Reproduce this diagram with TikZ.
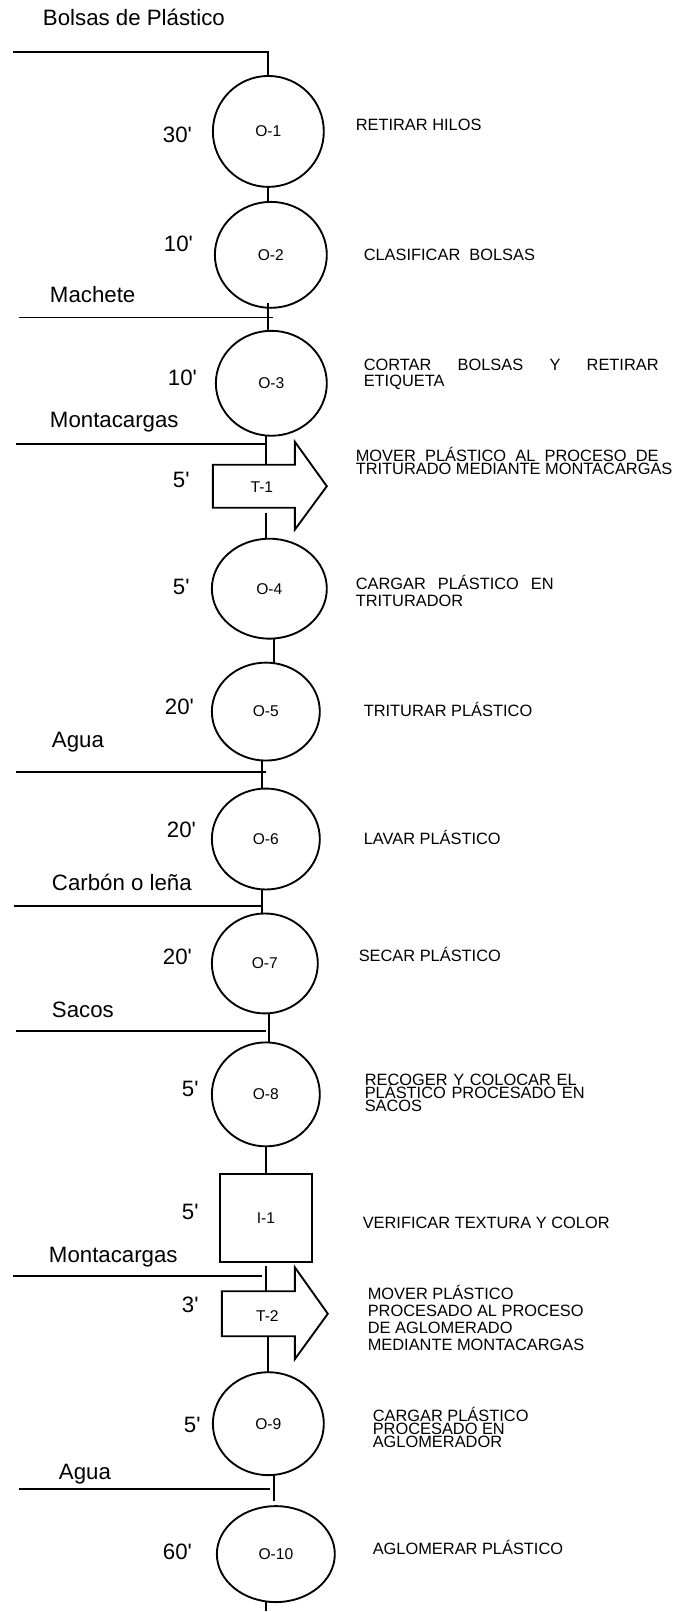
\documentclass[tikz,border=0pt]{standalone}
\usepackage{fontspec}
\setmainfont{Liberation Sans}
\usetikzlibrary{shapes.geometric,calc}

\newdimen\pxu \pxu=0.75pt
\newcommand\feedfont{\fontsize{16.7}{20}\selectfont}
\newcommand\symfont{\fontsize{11.7}{14}\selectfont}
\newcommand\descfont{\fontsize{12.3}{15}\selectfont}
\newcommand\mins[1]{#1\textquotesingle}
% multi-line description: #1 = baseline distance, #2 = rows
\newcommand\descrows[2]{{\fontsize{12.3}{#1}\selectfont\lineskiplimit=-100pt\lineskip=0pt\vtop{#2}}}
\newcommand\rowx[1]{\hbox{#1}}
\newcommand\rowj[2]{\hbox to #1\pxu{#2}}

\begin{document}
\begin{tikzpicture}[
  x=0.75pt, y=-0.75pt,
  every node/.style={inner sep=0pt, outer sep=0pt},
  flow/.style={line width=1.4pt},
  opn/.style 2 args={draw, ellipse, line width=1.4pt, font=\symfont,
    minimum width=#1*0.75pt, minimum height=#2*0.75pt},
  insp/.style 2 args={draw, rectangle, line width=1.4pt, font=\symfont,
    minimum width=#1*0.75pt, minimum height=#2*0.75pt},
  tbody/.style 2 args={rectangle, minimum width=#1*0.75pt, minimum height=#2*0.75pt},
  feed/.style={anchor=base west, font=\feedfont},
  time/.style={anchor=base west, font=\feedfont},
  desc/.style={anchor=base west, font=\descfont},
]
\fill[white] (0,0) rectangle (677,1612);

% ---- process symbols ----
\node[opn={111}{111}] (O1) at (268.5,131.5) {O-1};
\node[opn={112}{106}] (O2) at (271,255) {O-2};
\node[opn={111}{105}] (O3) at (271.5,383.5) {O-3};
\node[tbody={82}{43}] (T1) at (254,486.5) {};
\node[opn={115}{100}] (O4) at (269.5,589) {O-4};
\node[opn={108}{98}] (O5) at (266,712) {O-5};
\node[opn={108}{101}] (O6) at (266,839.5) {O-6};
\node[opn={106}{100}] (O7) at (265,964) {O-7};
\node[opn={108}{104}] (O8) at (266,1095) {O-8};
\node[insp={92}{88}] (I1) at (266,1219) {I-1};
\node[tbody={73}{45}] (T2) at (258.5,1314.5) {};
\node[opn={111}{103}] (O9) at (268.5,1424.5) {O-9};
\node[opn={118}{96}] (O10) at (276,1555) {O-10};

% transport arrows
\draw[flow, line join=miter] (T1.north west) -- (T1.north east) -- ++(0,-23)
  -- ($(T1.east)+(32,0)$) -- ($(T1.south east)+(0,22)$) -- (T1.south east)
  -- (T1.south west) -- cycle;
\node[font=\symfont] (T1t) at (262,487) {T-1};
\draw[flow, line join=miter] (T2.north west) -- (T2.north east) -- ++(0,-24)
  -- ($(T2.east)+(33,0)$) -- ($(T2.south east)+(0,23)$) -- (T2.south east)
  -- (T2.south west) -- cycle;
\node[font=\symfont] (T2t) at (267.5,1317) {T-2};

% ---- flow line ----
\coordinate (s0) at (13,51.7);
\draw[flow] (s0) -| (O1.north);
\draw[flow] (O1.south) -- (O1.south |- O2.north);
\coordinate (c2) at (268,303);
\draw[flow] (c2) -- (c2 |- O3.north);
\coordinate (c3) at (266,0);
\draw[flow] (O3.south -| c3) -- (T1.north -| c3);
\coordinate (c4) at (266,513);
\draw[flow] (c4) -- (c4 |- O4.north);
\coordinate (c5) at (274,0);
\draw[flow] (O4.south -| c5) -- (O5.north -| c5);
\coordinate (c6) at (262,0);
\draw[flow] (O5.south -| c6) -- (O6.north -| c6);
\draw[flow] (O6.south -| c6) -- (O7.north -| c6);
\coordinate (c8) at (269,0);
\draw[flow] (O7.south -| c8) -- (O8.north -| c8);
\coordinate (c9) at (266,0);
\draw[flow] (O8.south -| c9) -- (I1.north -| c9);
\coordinate (c10) at (266,1267);
\draw[flow] (c10) -- (c10 |- T2.north);
\coordinate (c11) at (268,0);
\draw[flow] (T2.south -| c11) -- (O9.north -| c11);
\coordinate (c12) at (274,1502);
\draw[flow] (O9.south -| c12) -- (c12);
\coordinate (c13) at (266,1612);
\draw[flow] (O10.south -| c13) -- (c13);

% ---- material inputs ----
\coordinate (m1a) at (19.5,317.7); \coordinate (m1b) at (273,317.7);
\draw[flow] (m1a) -- (m1b);
\coordinate (m2a) at (16,444); \coordinate (m2b) at (266,444);
\draw[flow] (m2a) -- (m2b);
\coordinate (m3a) at (16,772.7); \coordinate (m3b) at (266,772.7);
\draw[flow] (m3a) -- (m3b);
\coordinate (m4a) at (14,906.7); \coordinate (m4b) at (262,906.7);
\draw[flow] (m4a) -- (m4b);
\coordinate (m5a) at (16,1031.7); \coordinate (m5b) at (266,1031.7);
\draw[flow] (m5a) -- (m5b);
\coordinate (m6a) at (13,1276.7); \coordinate (m6b) at (262,1276.7);
\draw[flow] (m6a) -- (m6b);
\coordinate (m7a) at (19.5,1490); \coordinate (m7b) at (270,1490);
\draw[flow] (m7a) -- (m7b);

\node[feed] (f0) at (43,26) {Bolsas de Plástico};
\node[feed] (f1) at (50,303) {Machete};
\node[feed] (f2) at (50,428) {Montacargas};
\node[feed] (f3) at (52,748) {Agua};
\node[feed] (f4) at (52,891) {Carbón o leña};
\node[feed] (f5) at (52,1018) {Sacos};
\node[feed] (f6) at (49,1263) {Montacargas};
\node[feed] (f7) at (59,1480) {Agua};

% ---- times ----
\node[time] (t1) at (163,143) {\mins{30}};
\node[time] (t2) at (164,252) {\mins{10}};
\node[time] (t3) at (168,386) {\mins{10}};
\node[time] (t4) at (173,488) {\mins{5}};
\node[time] (t5) at (173,595) {\mins{5}};
\node[time] (t6) at (165,715) {\mins{20}};
\node[time] (t7) at (167,838) {\mins{20}};
\node[time] (t8) at (163,965) {\mins{20}};
\node[time] (t9) at (182,1097) {\mins{5}};
\node[time] (t10) at (182,1220) {\mins{5}};
\node[time] (t11) at (182,1313) {\mins{3}};
\node[time] (t12) at (184,1433) {\mins{5}};
\node[time] (t13) at (163,1560) {\mins{60}};

% ---- activity descriptions ----
\node[desc] (d1) at (356,131) {RETIRAR HILOS};
\node[desc] (d2) at (364,261) {CLASIFICAR\ \ BOLSAS};
\node[desc] (d3) at (364,371) {\descrows{12pt}{\rowj{295}{CORTAR BOLSAS Y RETIRAR}\rowx{ETIQUETA}}};
\node[desc] (d4) at (356,462) {\descrows{9.75pt}{\rowj{303}{MOVER PLÁSTICO AL PROCESO DE}\rowx{TRITURADO MEDIANTE MONTACARGAS}}};
\node[desc] (d5) at (356,590) {\descrows{12.75pt}{\rowj{198}{CARGAR PLÁSTICO EN}\rowx{TRITURADOR}}};
\node[desc] (d6) at (364,717) {TRITURAR PLÁSTICO};
\node[desc] (d7) at (364,845) {LAVAR PLÁSTICO};
\node[desc] (d8) at (359,962) {SECAR PLÁSTICO};
\node[desc] (d9) at (365,1086) {\descrows{9.75pt}{\rowj{212}{RECOGER Y COLOCAR EL}\rowj{220}{PLÁSTICO PROCESADO EN}\rowx{SACOS}}};
\node[desc] (d10) at (363,1229) {VERIFICAR TEXTURA Y COLOR};
\node[desc] (d11) at (368,1300) {\descrows{12.75pt}{\rowx{MOVER PLÁSTICO}\rowx{PROCESADO AL PROCESO}\rowx{DE AGLOMERADO}\rowx{MEDIANTE MONTACARGAS}}};
\node[desc] (d12) at (373,1422) {\descrows{9.75pt}{\rowx{CARGAR PLÁSTICO}\rowx{PROCESADO EN}\rowx{AGLOMERADOR}}};
\node[desc] (d13) at (373,1555) {AGLOMERAR PLÁSTICO};
\end{tikzpicture}
\end{document}
